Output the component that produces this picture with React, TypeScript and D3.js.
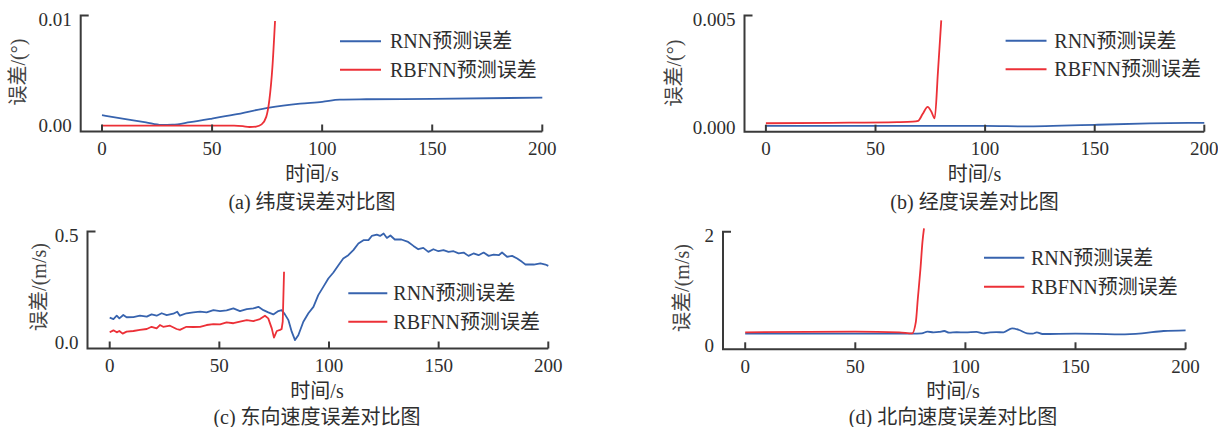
import React from "react";
import * as d3 from "d3";

// ---------- data ----------
const timeTicks = [0, 50, 100, 150, 200];

// (a) latitude error
const latRnn: [number, number][] = [
  [0, 0.00095], [10, 0.00062], [20, 0.0003], [27, 0.00007], [32, 0.00009], [40, 0.00032],
  [50, 0.00065], [60, 0.001], [76, 0.00165], [90, 0.002], [100, 0.00217], [108, 0.00237],
  [120, 0.0024], [150, 0.00243], [200, 0.00255],
];
const latRbf: [number, number][] = [
  [0, 0.00001], [30, 0.00001], [60, 0.00001], [64, -0.00004], [67, -0.00012], [70, -0.00008],
  [72.5, 0.00012], [74.6, 0.0008], [76, 0.0023], [77.4, 0.0053], [78.6, 0.0095],
];
const latYTicks = [0, 0.01];
const latYTickLabels = ["0.00", "0.01"];

// (b) longitude error
const lonRnn: [number, number][] = [
  [0, 0.00007], [50, 0.00007], [100, 0.00007], [120, 0.00005], [135, 0.00008],
  [150, 0.00012], [175, 0.00018], [200, 0.00021],
];
const lonRbf: [number, number][] = [
  [0, 0.00019], [30, 0.00021], [60, 0.00024], [67, 0.00026], [69.5, 0.0003], [71.5, 0.0006],
  [73.8, 0.00092], [75.5, 0.0007], [77, 0.00041], [78.5, 0.0025], [80, 0.00478],
];
const lonYTicks = [0, 0.005];
const lonYTickLabels = ["0.000", "0.005"];

// (c) east velocity error
const eastRnn: [number, number][] = [
  [0, 0.111], [1.7, 0.105], [3.2, 0.12], [4.4, 0.108], [6.2, 0.123], [7.7, 0.113], [10.8, 0.114],
  [13.8, 0.12], [16.9, 0.116], [19.1, 0.126], [21.4, 0.12], [23.7, 0.131], [26, 0.123], [29, 0.129],
  [30.8, 0.138], [32, 0.12], [35, 0.131], [38.1, 0.135], [41.2, 0.138], [44.2, 0.135], [47.3, 0.145],
  [50.3, 0.141], [53.3, 0.144], [56.4, 0.153], [59.4, 0.141], [62.5, 0.15], [65.5, 0.153], [67.8, 0.16],
  [70.1, 0.145], [72.3, 0.135], [74.6, 0.126], [76.9, 0.141], [78.4, 0.145], [79.9, 0.126], [81.5, 0.1],
  [83, 0.048], [84.5, 0.01], [86, 0.032], [88.3, 0.093], [90.6, 0.131], [92.9, 0.16], [95.1, 0.213],
  [97.4, 0.25], [99.7, 0.288], [102, 0.315], [104.3, 0.348], [106.5, 0.378], [108.8, 0.393],
  [111.1, 0.416], [113.4, 0.446], [115.7, 0.461], [118, 0.461], [119.5, 0.48], [121.8, 0.486],
  [123.3, 0.48], [124.9, 0.491], [126.4, 0.471], [128, 0.482], [130, 0.464], [133, 0.464],
  [136.1, 0.453], [138.5, 0.435], [140.7, 0.42], [143, 0.426], [145.3, 0.408], [147.6, 0.42],
  [149.9, 0.411], [152.2, 0.416], [154.5, 0.408], [156.8, 0.411], [159.1, 0.401], [161.4, 0.405],
  [163.6, 0.39], [165.9, 0.401], [168.2, 0.393], [170.5, 0.405], [172.8, 0.39], [175.1, 0.396],
  [177.4, 0.393], [178.9, 0.405], [181.2, 0.386], [183.5, 0.39], [185.8, 0.378], [188, 0.363],
  [189.6, 0.351], [193.4, 0.351], [196.4, 0.356], [198.7, 0.351], [200, 0.345],
];
const eastRbf: [number, number][] = [
  [0, 0.045], [1.7, 0.054], [3.2, 0.045], [4.4, 0.051], [5.9, 0.039], [7.7, 0.048], [10.8, 0.051],
  [13.8, 0.056], [16.9, 0.06], [19.1, 0.07], [21.4, 0.063], [22.9, 0.078], [24.4, 0.07], [27.5, 0.075],
  [30.5, 0.06], [32, 0.056], [35, 0.07], [38.1, 0.069], [41.2, 0.07], [44.2, 0.078], [47.3, 0.082],
  [50.3, 0.081], [53.3, 0.09], [56.4, 0.086], [59.4, 0.093], [62.5, 0.1], [65.5, 0.096], [68.5, 0.105],
  [70.8, 0.12], [72.3, 0.108], [73.9, 0.063], [74.9, 0.021], [76.2, 0.051], [77.7, 0.056],
  [78.4, 0.06], [78.9, 0.093], [79.5, 0.318],
];
const eastYTicks = [0, 0.5];
const eastYTickLabels = ["0.0", "0.5"];

// (d) north velocity error
const northRnn: [number, number][] = [
  [0, 0.2], [40, 0.2], [75.8, 0.2], [80.2, 0.206], [82.8, 0.235], [85.5, 0.224], [88, 0.23],
  [90.4, 0.247], [92.6, 0.218], [96, 0.225], [100, 0.224], [105, 0.23], [108.1, 0.206],
  [111.2, 0.224], [114, 0.226], [117.3, 0.224], [121.2, 0.294], [124.4, 0.265], [128, 0.206],
  [130.6, 0.2], [132.4, 0.224], [135, 0.194], [150, 0.2], [160, 0.196], [170.4, 0.188],
  [180.2, 0.206], [190, 0.247], [200, 0.259],
];
const northRbf: [number, number][] = [
  [0, 0.224], [50, 0.235], [70, 0.224], [75.8, 0.206], [77.5, 0.41], [78.4, 0.82], [79.6, 1.35],
  [80.5, 1.82], [81.2, 2.06],
];
const northYTicks = [0, 2];
const northYTickLabels = ["0", "2"];

const seriesNames = ["RNN预测误差", "RBFNN预测误差"];
const xLabel = "时间/s";

// ---------- styling ----------
const BLUE = "#3763ae";
const RED = "#ec3037";
const AXIS = "#3a3a3a";
const TEXT = "#2e2e2e";
const FONT = "'Liberation Serif', 'Times New Roman', 'Noto Sans CJK SC', serif";

type PanelCfg = {
  rnn: [number, number][];
  rbf: [number, number][];
  yTicks: number[];
  yTickLabels: string[];
  yLabel: string;
  caption: string;
  axisLeft: number;
  axisBottom: number;
  x0: number;
  x200: number;
  yZero: number;
  yTop: number;
  legX1: number;
  legX2: number;
  legTextX: number;
  legY1: number;
  legY2: number;
  yLabelX: number;
  yLabelY: number;
  xLabelX: number;
  captionY: number;
  curve: d3.CurveFactory;
};

const panels: PanelCfg[] = [
  {
    rnn: latRnn, rbf: latRbf, yTicks: latYTicks, yTickLabels: latYTickLabels,
    yLabel: "误差/(°)", caption: "(a) 纬度误差对比图",
    axisLeft: 80.7, axisBottom: 131.5, x0: 102, x200: 542.3, yZero: 125.7, yTop: 15.5,
    legX1: 340, legX2: 381, legTextX: 390, legY1: 41.3, legY2: 69.7,
    yLabelX: 18, yLabelY: 72, xLabelX: 312, captionY: 201.5, curve: d3.curveMonotoneX,
  },
  {
    rnn: lonRnn, rbf: lonRbf, yTicks: lonYTicks, yTickLabels: lonYTickLabels,
    yLabel: "误差/(°)", caption: "(b) 经度误差对比图",
    axisLeft: 744.5, axisBottom: 131.7, x0: 765.9, x200: 1204.3, yZero: 127.5, yTop: 15.5,
    legX1: 1005.6, legX2: 1046.5, legTextX: 1054.3, legY1: 40.7, legY2: 69.3,
    yLabelX: 674.3, yLabelY: 73, xLabelX: 974.5, captionY: 201.5, curve: d3.curveMonotoneX,
  },
  {
    rnn: eastRnn, rbf: eastRbf, yTicks: eastYTicks, yTickLabels: eastYTickLabels,
    yLabel: "误差/(m/s)", caption: "(c) 东向速度误差对比图",
    axisLeft: 87.5, axisBottom: 348.5, x0: 109.7, x200: 548.3, yZero: 342.3, yTop: 231.5,
    legX1: 348.3, legX2: 387.3, legTextX: 393.3, legY1: 293.3, legY2: 321.7,
    yLabelX: 38.5, yLabelY: 287, xLabelX: 317, captionY: 416.5, curve: d3.curveLinear,
  },
  {
    rnn: northRnn, rbf: northRbf, yTicks: northYTicks, yTickLabels: northYTickLabels,
    yLabel: "误差/(m/s)", caption: "(d) 北向速度误差对比图",
    axisLeft: 723, axisBottom: 349.3, x0: 745.2, x200: 1185.6, yZero: 345, yTop: 231.7,
    legX1: 984, legX2: 1024.3, legTextX: 1031, legY1: 257.7, legY2: 286.7,
    yLabelX: 682, yLabelY: 288, xLabelX: 953, captionY: 416.5, curve: d3.curveMonotoneX,
  },
];

function Panel({ p }: { p: PanelCfg }) {
  const x = d3.scaleLinear().domain([0, 200]).range([p.x0, p.x200]);
  const yMax = p.yTicks[p.yTicks.length - 1];
  const y = d3.scaleLinear().domain([0, yMax]).range([p.yZero, p.yTop]);
  const line = d3
    .line<[number, number]>()
    .x((d) => x(d[0]))
    .y((d) => y(d[1]))
    .curve(p.curve);
  const xRight = x(200);
  return (
    <g>
      {/* data */}
      <path d={line(p.rnn) || ""} fill="none" stroke={BLUE} strokeWidth={1.8} strokeLinejoin="round" />
      <path d={line(p.rbf) || ""} fill="none" stroke={RED} strokeWidth={1.8} strokeLinejoin="round" />
      {/* axes */}
      <path
        d={`M${p.axisLeft + 8},${y(yMax)}H${p.axisLeft}V${p.axisBottom}H${xRight}`}
        fill="none"
        stroke={AXIS}
        strokeWidth={2}
      />
      {timeTicks.map((t) => (
        <g key={t}>
          <line x1={x(t)} x2={x(t)} y1={p.axisBottom} y2={p.axisBottom - 7} stroke={AXIS} strokeWidth={2} />
          <text
            x={x(t)}
            y={p.axisBottom + 17}
            dy="0.35em"
            textAnchor="middle"
            fontSize={19}
            fill={TEXT}
          >
            {t}
          </text>
        </g>
      ))}
      {p.yTicks.map((v, i) => (
        <text
          key={v}
          x={p.axisLeft - 9}
          y={y(v) + (i === p.yTicks.length - 1 ? 4 : 0)}
          dy="0.35em"
          textAnchor="end"
          fontSize={19}
          fill={TEXT}
        >
          {p.yTickLabels[i]}
        </text>
      ))}
      {/* labels */}
      <text
        transform={`translate(${p.yLabelX},${p.yLabelY}) rotate(-90)`}
        textAnchor="middle"
        dy="0.35em"
        fontSize={20}
        fill="#444"
      >
        {p.yLabel}
      </text>
      <text x={p.xLabelX} y={p.axisBottom + 42} dy="0.35em" textAnchor="middle" fontSize={20} fill={TEXT}>
        {xLabel}
      </text>
      <text x={p.xLabelX} y={p.captionY} dy="0.35em" textAnchor="middle" fontSize={20} fill={TEXT}>
        {p.caption}
      </text>
      {/* legend */}
      <line x1={p.legX1} x2={p.legX2} y1={p.legY1} y2={p.legY1} stroke={BLUE} strokeWidth={2} />
      <line x1={p.legX1} x2={p.legX2} y1={p.legY2} y2={p.legY2} stroke={RED} strokeWidth={2} />
      <text x={p.legTextX} y={p.legY1} dy="0.35em" fontSize={20} fill={TEXT}>
        {seriesNames[0]}
      </text>
      <text x={p.legTextX} y={p.legY2} dy="0.35em" fontSize={20} fill={TEXT}>
        {seriesNames[1]}
      </text>
    </g>
  );
}

export default function App() {
  return (
    <svg
      width={1218}
      height={427}
      style={{ position: "absolute", left: 0, top: 0, background: "#fff" }}
      fontFamily={FONT}
    >
      <rect width={1218} height={427} fill="#fff" />
      {panels.map((p, i) => (
        <Panel key={i} p={p} />
      ))}
    </svg>
  );
}
